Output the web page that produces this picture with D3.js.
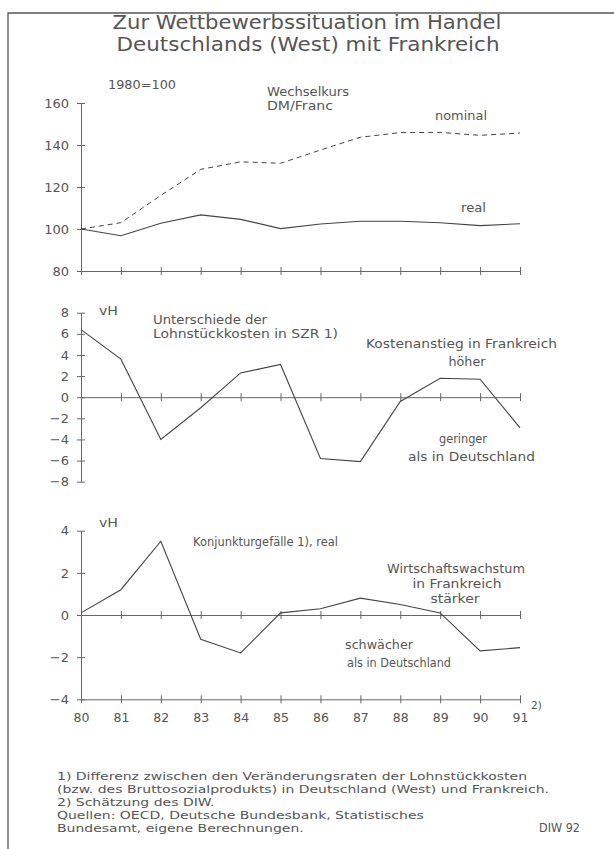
<!DOCTYPE html>
<html lang="de">
<head>
<meta charset="UTF-8">
<title>Wettbewerbssituation Frankreich</title>
<script src="https://d3js.org/d3.v7.min.js"></script>
<style>
    body { margin: 0; background: #fff; }
    svg text { font-family: "DejaVu Sans", sans-serif; fill: #555; }
    .axis path, .axis line { stroke: #666; stroke-width: 1; fill: none; }
    .axis text { font-size: 13px; fill: #555; }
</style>
</head>
<body>
<script>
    // Jahre 1980-1991
    let years = [80, 81, 82, 83, 84, 85, 86, 87, 88, 89, 90, 91];
    // Wechselkurs DM/Franc, 1980=100
    let nominal = [100, 103, 116, 128.4, 132, 131.3, 137.6, 143.7, 145.9, 146, 144.6, 145.7];
    let real = [100, 96.8, 102.7, 106.7, 104.6, 100.2, 102.4, 103.7, 103.7, 103, 101.6, 102.5];
    // Unterschiede der Lohnstückkosten, vH
    let lohn = [6.4, 3.6, -4.0, -1.0, 2.3, 3.1, -5.8, -6.1, -0.4, 1.8, 1.7, -2.9];
    // Konjunkturgefälle, real, vH
    let konj = [0.1, 1.2, 3.5, -1.15, -1.8, 0.1, 0.3, 0.8, 0.5, 0.1, -1.7, -1.55];

    let ticksTop = [80, 100, 120, 140, 160];
    let ticksMid = [-8, -6, -4, -2, 0, 2, 4, 6, 8];
    let ticksBot = [-4, -2, 0, 2, 4];

    let svg = d3.select('body').append('svg').attr('width', 614).attr('height', 849);

    // Rahmen
    svg.append('path').attr('d', 'M8,849 L8,13 L614,13')
        .attr('fill', 'none').attr('stroke', '#555').attr('stroke-width', 1.3);

    // Text mit fester Breite (breite Plotterschrift)
    function label(tx, ty, t, w, anchor, size) {
        let x0 = anchor === 'middle' ? tx - w / 2 : tx;
        return svg.append('text').attr('x', x0).attr('y', ty)
            .attr('textLength', w).attr('lengthAdjust', 'spacingAndGlyphs')
            .style('font-size', (size || 12.5) + 'px').text(t);
    }

    // Titel
    label(307, 29, 'Zur Wettbewerbssituation im Handel', 389, 'middle', 19);
    label(308, 51, 'Deutschlands (West) mit Frankreich', 383, 'middle', 19);

    let x = d3.scaleLinear().domain([80, 91]).range([81, 520]);
    let line = d3.line().x(function (d, i) { return x(years[i]); });

    // Achsen mit Kreuz-Ticks
    function yAxis(scale, ticks) {
        let g = svg.append('g').attr('class', 'axis')
            .attr('transform', 'translate(81,0)')
            .call(d3.axisLeft(scale).tickValues(ticks).tickSize(4).tickSizeOuter(0).tickPadding(8));
        g.selectAll('.tick line').attr('x1', -4).attr('x2', 4);
        return g;
    }
    function xAxis(ypos) {
        let g = svg.append('g').attr('class', 'axis')
            .attr('transform', 'translate(0,' + ypos + ')')
            .call(d3.axisBottom(x).tickValues(years).tickSize(4).tickSizeOuter(0).tickFormat(''));
        g.selectAll('.tick line').attr('y1', -4).attr('y2', 4);
        return g;
    }
    function series(data, scale, dash) {
        let p = svg.append('path').datum(data)
            .attr('d', line.y(function (d) { return scale(d); }))
            .attr('fill', 'none').attr('stroke', '#444').attr('stroke-width', 1.1);
        if (dash) p.attr('stroke-dasharray', dash).attr('stroke-width', 1);
        return p;
    }

    // --- Panel 1: Wechselkurs ---
    let y1 = d3.scaleLinear().domain([80, 160]).range([271, 103]);
    yAxis(y1, ticksTop);
    xAxis(y1(80));
    series(nominal, y1, '5,4');
    series(real, y1);
    label(108, 89, '1980=100', 68);
    label(267, 96, 'Wechselkurs', 82);
    label(267, 110, 'DM/Franc', 66);
    label(435, 120, 'nominal', 52);
    label(461, 212, 'real', 25);

    // --- Panel 2: Lohnstückkosten ---
    let y2 = d3.scaleLinear().domain([-8, 8]).range([481.7, 312.7]);
    yAxis(y2, ticksMid);
    xAxis(y2(0));
    series(lohn, y2);
    label(99, 315, 'vH', 19);
    label(153, 324, 'Unterschiede der', 114, 'start', 11.5);
    label(153, 338, 'Lohnstückkosten in SZR 1)', 185, 'start', 11.5);
    label(366, 348, 'Kostenanstieg in Frankreich', 191);
    label(467, 366, 'höher', 37, 'middle');
    label(463, 443, 'geringer', 48, 'middle');
    label(408, 461, 'als in Deutschland', 127);

    // --- Panel 3: Konjunkturgefälle ---
    let y3 = d3.scaleLinear().domain([-4, 4]).range([699.3, 530.7]);
    yAxis(y3, ticksBot);
    xAxis(y3(0));
    let bottom = xAxis(y3(-4));
    bottom.selectAll('.tick').append('text')
        .attr('y', 23).attr('text-anchor', 'middle')
        .style('font-size', '12.5px')
        .text(function (d) { return d; });
    series(konj, y3);
    label(99, 527, 'vH', 19);
    label(193, 546, 'Konjunkturgefälle 1), real', 145);
    label(456, 573, 'Wirtschaftswachstum', 138, 'middle');
    label(457, 588, 'in Frankreich', 89, 'middle');
    label(455, 603, 'stärker', 49, 'middle');
    label(379, 649, 'schwächer', 68, 'middle');
    label(347, 667, 'als in Deutschland', 104);
    svg.append('text').attr('x', 531).attr('y', 709).style('font-size', '10.5px').text('2)');

    // Fußnoten
    let notes = [
        '1) Differenz zwischen den Veränderungsraten der Lohnstückkosten',
        '(bzw. des Bruttosozialprodukts) in Deutschland (West) und Frankreich.',
        '2) Schätzung des DIW.',
        'Quellen: OECD, Deutsche Bundesbank, Statistisches',
        'Bundesamt, eigene Berechnungen.'
    ];
    let noteText = svg.selectAll('.note').data(notes).enter().append('text')
        .attr('class', 'note')
        .attr('x', 57).attr('y', function (d, i) { return 780 + i * 13; })
        .style('font-size', '11px')
        .text(function (d) { return d; });
    // gleichmäßig breiter ziehen, erste Zeile bis x=527
    let k = 470 / noteText.node().getComputedTextLength();
    noteText.each(function () {
        d3.select(this).attr('textLength', this.getComputedTextLength() * k)
            .attr('lengthAdjust', 'spacingAndGlyphs');
    });
    label(539, 832, 'DIW 92', 41, 'start', 11.5);
</script>
</body>
</html>
